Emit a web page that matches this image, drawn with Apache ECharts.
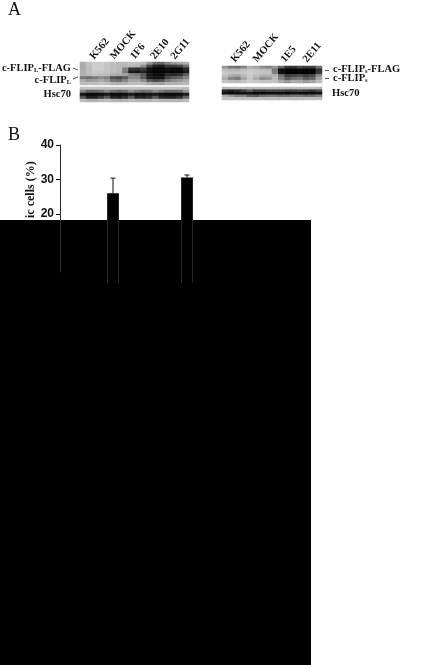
<!DOCTYPE html>
<html>
<head>
<meta charset="utf-8">
<style>
  html, body { margin: 0; padding: 0; background: #fff; }
  #chart { width: 426px; height: 665px; }
</style>
<script src="https://cdn.jsdelivr.net/npm/echarts@6/dist/echarts.min.js"></script>
</head>
<body>
<div id="chart"></div>
<script>
// lane names
const lanesLeft = ['K562', 'MOCK', '1F6', '2E10', '2G11']
const lanesRight = ['K562', 'MOCK', '1E5', '2E11']

// bar values
const barCategories = ['first', 'second']
const barValues = [26, 30.6]
const barErrorTops = [30.4, 31.3]
const tickValues = [20, 30, 40]

// blot grey levels, 0 black - 255 white
const blotFlipL = [
  [175,195,205,205,200,190,185,185,195,195,190,150,110,100,130,150,165,175],
  [170,190,205,205,195,190,185,180,185,180,140,70,30,30,60,60,70,110],
  [170,190,205,205,195,190,185,130,50,45,60,15,5,5,15,10,10,40],
  [175,190,200,200,195,190,180,120,25,20,35,10,5,5,10,5,5,25],
  [175,185,195,190,185,175,170,160,130,120,90,25,10,10,40,40,50,90],
  [120,110,125,140,130,80,70,90,135,135,90,30,20,20,70,90,100,130],
  [170,155,160,170,155,115,105,130,165,165,140,90,70,80,120,140,150,165],
  [190,190,190,195,190,180,175,180,190,190,185,170,160,160,175,180,180,185]
]
const blotHscLeft = [
  [195,195,195,195,195,195,195,195,195,195,195,195,195,195,195,195,195,190],
  [130,100,100,110,135,110,100,110,140,120,110,115,140,120,105,105,110,150],
  [20,10,10,15,25,10,10,15,25,15,15,20,25,15,10,10,15,30],
  [80,30,30,50,85,35,30,45,85,35,35,45,85,40,35,35,50,100],
  [190,175,175,185,190,180,175,180,190,180,180,180,190,180,180,180,180,190]
]
const blotFlipS = [
  [150,120,110,130,175,165,140,130,150,100,50,50,70,60,60,110],
  [190,185,180,190,200,195,190,185,120,10,0,0,5,0,0,50],
  [200,195,195,200,205,200,195,195,130,15,0,0,5,0,0,60],
  [190,170,160,185,200,190,175,175,180,110,60,70,80,60,70,140],
  [170,130,120,165,195,170,140,150,185,130,90,110,120,90,100,165],
  [195,190,185,195,205,200,195,195,195,170,150,170,170,155,165,190]
]
const blotHscRight = [
  [185,190,190,190,190,190,190,190,190,190,190,190,190,190,190,185],
  [40,30,40,60,90,60,60,70,70,70,60,60,70,60,50,70],
  [20,10,15,15,20,10,10,15,15,15,10,15,15,10,10,20],
  [170,150,130,130,100,90,110,120,120,110,110,120,120,110,110,130],
  [195,195,195,190,190,190,190,190,190,190,190,190,190,190,190,190]
]

const SERIF = '"Liberation Serif", serif'
const SANS = '"Liberation Sans", sans-serif'

const blotBoxes = [
  { m: blotFlipL, left: 80, top: 62, width: 109, height: 23 },
  { m: blotHscLeft, left: 80, top: 87, width: 109, height: 15 },
  { m: blotFlipS, left: 222, top: 66, width: 100, height: 17 },
  { m: blotHscRight, left: 222, top: 87, width: 100, height: 13 }
]

const grids = []
const xAxes = []
const yAxes = []
const series = []

blotBoxes.forEach((b, i) => {
  const rows = b.m.length
  const cols = b.m[0].length
  const data = []
  b.m.forEach((row, r) => row.forEach((v, c) => data.push([c, r, v])))
  grids.push({ left: b.left, top: b.top, width: b.width, height: b.height })
  xAxes.push({ type: 'category', gridIndex: i, show: false, data: Array.from({ length: cols }, (_, k) => k) })
  yAxes.push({ type: 'category', gridIndex: i, show: false, inverse: true, data: Array.from({ length: rows }, (_, k) => k) })
  series.push({ type: 'heatmap', xAxisIndex: i, yAxisIndex: i, data, silent: true, animation: false, itemStyle: { borderWidth: 0 } })
})

// grid 4: visible value axis, it stops short of zero like the original
grids.push({ left: 60, top: 145, width: 200, bottom: 393 })
xAxes.push({ type: 'category', gridIndex: 4, show: false, data: barCategories })
yAxes.push({
  type: 'value', gridIndex: 4, min: 3.2, max: 40, z: 6,
  splitLine: { show: false },
  axisLine: { show: true, lineStyle: { color: '#2a2a2a', width: 1 } },
  axisTick: { show: true, length: 4, lineStyle: { color: '#111' }, customValues: tickValues },
  axisLabel: { color: '#111', fontFamily: SANS, fontWeight: 'bold', fontSize: 12, margin: 6, customValues: tickValues }
})

// grid 5: bars, on a zero based scale
grids.push({ left: 76, top: 145, width: 148, bottom: 382 })
xAxes.push({ type: 'category', gridIndex: 5, show: false, data: barCategories })
yAxes.push({ type: 'value', gridIndex: 5, show: false, min: 0, max: 40 })
series.push({
  type: 'bar', xAxisIndex: 5, yAxisIndex: 5, data: barValues, barWidth: 11, z: 5, animation: false,
  itemStyle: { color: '#000' }
})
// error bar plus the two faint bar edges that show on the black block
series.push({
  type: 'custom', xAxisIndex: 5, yAxisIndex: 5, z: 6, animation: false,
  data: barCategories.map((c, i) => [i, barValues[i], barErrorTops[i]]),
  encode: { x: 0, y: [1, 2] },
  renderItem: (params, api) => {
    const low = api.coord([api.value(0), api.value(1)])
    const high = api.coord([api.value(0), api.value(2)])
    const base = api.coord([api.value(0), 0])
    const style = { stroke: '#111', lineWidth: 1 }
    const edge = { stroke: '#262626', lineWidth: 1 }
    return {
      type: 'group',
      children: [
        { type: 'line', shape: { x1: low[0], y1: low[1], x2: high[0], y2: high[1] }, style },
        { type: 'line', shape: { x1: low[0] - 2.5, y1: high[1], x2: low[0] + 2.5, y2: high[1] }, style },
        { type: 'line', shape: { x1: low[0] - 5.5, y1: low[1], x2: low[0] - 5.5, y2: base[1] }, style: edge },
        { type: 'line', shape: { x1: low[0] + 5.5, y1: low[1], x2: low[0] + 5.5, y2: base[1] }, style: edge }
      ]
    }
  }
})

const laneText = (text, x, y) => ({
  type: 'text', x, y, rotation: 50 * Math.PI / 180, z: 10,
  style: { text, font: 'bold 10.5px ' + SERIF, fill: '#111', textAlign: 'left', textVerticalAlign: 'middle' }
})

const proteinRich = {
  b: { font: 'bold 10.5px ' + SERIF, fill: '#111', color: '#111' },
  s: { font: 'bold 6.5px ' + SERIF, fill: '#111', color: '#111', verticalAlign: 'bottom', padding: [4, 0, 0, 0] }
}
const proteinText = (text, x, y, align) => ({
  type: 'text', x, y, z: 10,
  style: { text, rich: proteinRich, textAlign: align, textVerticalAlign: 'middle' }
})
const tickLine = (x1, y1, x2, y2) => ({
  type: 'line', z: 10, shape: { x1, y1, x2, y2 }, style: { stroke: '#555', lineWidth: 1 }
})

const graphic = [
  { type: 'text', x: 8, y: 1, z: 10, style: { text: 'A', font: '18px ' + SERIF, fill: '#111' } },
  { type: 'text', x: 8, y: 126, z: 10, style: { text: 'B', font: '18px ' + SERIF, fill: '#111' } },
  proteinText('{b|c-FLIP}{s|L}{b|-FLAG}', 71, 68.5, 'right'),
  proteinText('{b|c-FLIP}{s|L}', 71, 80, 'right'),
  proteinText('{b|Hsc70}', 71, 94, 'right'),
  proteinText('{b|c-FLIP}{s|s}{b|-FLAG}', 333, 69.5, 'left'),
  proteinText('{b|c-FLIP}{s|s}', 333, 78.5, 'left'),
  proteinText('{b|Hsc70}', 332, 93, 'left'),
  tickLine(73, 68, 78, 70),
  tickLine(73, 79, 78, 77),
  tickLine(325, 70.5, 329, 70.5),
  tickLine(325, 78.5, 329, 78.5),
  {
    type: 'text', x: 31, y: 218, rotation: Math.PI / 2, z: 2,
    style: { text: 'ic cells (%)', font: 'bold 12px ' + SERIF, fill: '#111', textAlign: 'left', textVerticalAlign: 'middle' }
  },
  // the black block hiding the lower part of the figure
  { type: 'rect', z: 3, shape: { x: 0, y: 220, width: 311, height: 445 }, style: { fill: '#000' } }
]
lanesLeft.forEach((t, i) => graphic.push(laneText(t, 92 + i * 20.2, 58)))
const rightStarts = [233, 255, 283, 305]
lanesRight.forEach((t, i) => graphic.push(laneText(t, rightStarts[i], 61)))

const chart = echarts.init(document.getElementById('chart'), null, { renderer: 'canvas' })
chart.setOption({
  backgroundColor: '#fff',
  animation: false,
  grid: grids,
  xAxis: xAxes,
  yAxis: yAxes,
  visualMap: {
    show: false, type: 'continuous', min: 0, max: 255, seriesIndex: [0, 1, 2, 3],
    inRange: { color: ['#000000', '#ffffff'] }
  },
  graphic: { elements: graphic },
  series
})
</script>
</body>
</html>
